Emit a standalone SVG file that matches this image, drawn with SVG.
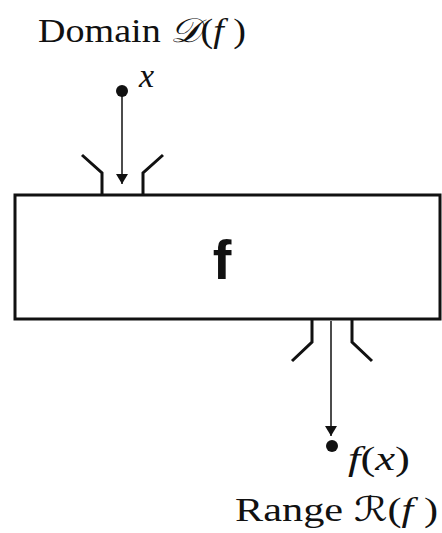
<svg xmlns="http://www.w3.org/2000/svg" width="442" height="533" viewBox="0 0 442 533">
<defs>
<style>
.lbl{font-family:"Liberation Serif","DejaVu Serif",serif;font-size:34px;fill:#111}
.it{font-style:italic}
.scr{font-family:"DejaVu Sans","Noto Sans",serif;font-style:italic}
.ln{stroke:#111;fill:none}
.box{fill:#fff;stroke:#111;stroke-width:3}
.dot{fill:#111}
</style>
<marker id="ah" viewBox="0 0 10 12" refX="10" refY="6" markerWidth="10" markerHeight="12" markerUnits="userSpaceOnUse" orient="auto">
<path d="M0,0 L10,6 L0,12 Z" fill="#111"/>
</marker>
</defs>
<rect width="442" height="533" fill="#fff"/>
<g id="domain">
<text class="lbl" x="38" y="42" textLength="208" lengthAdjust="spacingAndGlyphs">Domain <tspan class="scr">𝒟</tspan>(<tspan class="it">f</tspan> )</text>
<circle class="dot" cx="122" cy="91" r="6"/>
<text class="lbl it" x="139" y="87">x</text>
</g>
<g id="function">
<rect class="box" x="15" y="195" width="425" height="124"/>
<text x="222" y="279" text-anchor="middle" font-family="Liberation Sans,Arial,sans-serif" font-weight="bold" font-size="56" fill="#111">f</text>
<path class="ln" stroke-width="3" d="M82,155 L102,173 L102,195 M163,155 L143,173 L143,195"/>
<path class="ln" stroke-width="3" d="M292,361 L312,342 L312,320 M372,361 L352,342 L352,320"/>
</g>
<g id="range">
<circle class="dot" cx="332" cy="446" r="6"/>
<text class="lbl" x="348" y="470" textLength="62" lengthAdjust="spacingAndGlyphs"><tspan class="it">f</tspan>(<tspan class="it">x</tspan>)</text>
<text class="lbl" x="235" y="521" textLength="203" lengthAdjust="spacingAndGlyphs">Range <tspan class="scr">ℛ</tspan>(<tspan class="it">f</tspan> )</text>
</g>
<g id="connectors">
<line class="ln" stroke-width="1.5" x1="122" y1="96" x2="122" y2="184" marker-end="url(#ah)"/>
<line class="ln" stroke-width="1.5" x1="331" y1="321" x2="331" y2="436" marker-end="url(#ah)"/>
</g>
</svg>
